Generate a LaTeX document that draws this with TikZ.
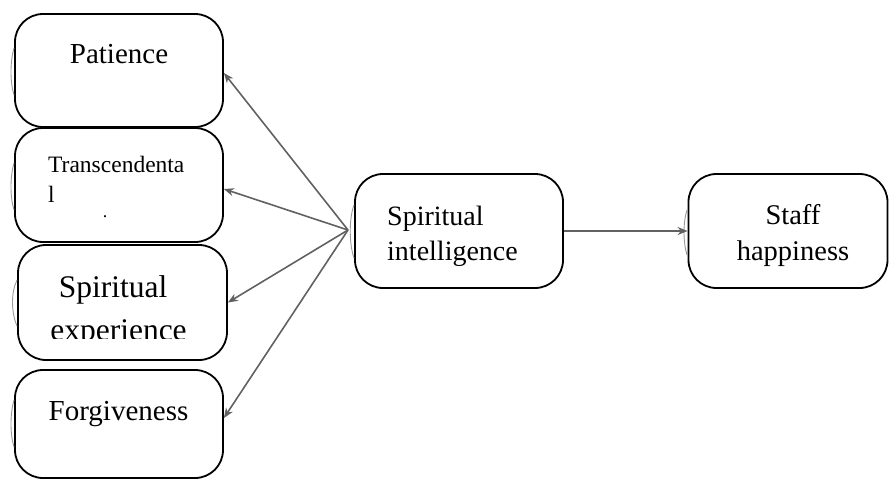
\documentclass[tikz,border=0pt]{standalone}
\usepackage{fontspec}
\setmainfont{Liberation Serif}
\usetikzlibrary{arrows.meta}
\begin{document}
\begin{tikzpicture}[x=1pt,y=-1pt,
  box/.style={draw=black,line width=1.8pt,rounded corners=28pt,rectangle,inner sep=0pt},
  lbl/.style={inner sep=0pt,text=black},
  arr/.style={draw=black!62,line width=1.6pt,-{Stealth[length=10pt,width=8pt]}},
  ghost/.style={draw=black!40,line width=0.9pt}]
\useasboundingbox (0,0) rectangle (889,480);
% boxes
\node[box,minimum width=208pt,minimum height=113pt] (pat) at (119,70.5) {};
\node[box,minimum width=208pt,minimum height=114pt] (tra) at (119,185) {};
\node[box,minimum width=209pt,minimum height=115pt] (spe) at (122.5,302.5) {};
\node[box,minimum width=208pt,minimum height=108pt] (forg) at (119,424) {};
\node[box,minimum width=208pt,minimum height=114pt] (si) at (459,231) {};
\node[box,minimum width=199pt,minimum height=114pt] (sh) at (788,231) {};
% ghost arcs
\draw[ghost] (14,48) .. controls (10,62) and (10,82) .. (14,95);
\draw[ghost] (14,163) .. controls (10,177) and (10,197) .. (14,210);
\draw[ghost] (17,280) .. controls (11,292) and (11,312) .. (17,326);
\draw[ghost] (14,400) .. controls (10,414) and (10,434) .. (14,447);
\draw[ghost] (354,205) .. controls (349,218) and (349,244) .. (354,258);
\draw[ghost] (687,210) .. controls (683,222) and (683,242) .. (687,255);
% texts
\node[lbl,anchor=base,font=\fontsize{29}{35}\selectfont] (tpat) at (119,63) {Patience};
\node[lbl,anchor=base west,font=\fontsize{23.5}{28}\selectfont] (ttra1) at (48,172) {Transcendenta};
\node[lbl,anchor=base west,font=\fontsize{23.5}{28}\selectfont] (ttra2) at (48,202) {l};
\node[lbl,anchor=base,font=\fontsize{18}{20}\selectfont] (ttra3) at (105,217) {.};
\node[lbl,anchor=base,font=\fontsize{31.5}{38}\selectfont] (tspe1) at (113,297) {Spiritual};
\begin{scope}
\clip (0,240) rectangle (240,338);
\node[lbl,anchor=base,font=\fontsize{31.5}{38}\selectfont] (tspe2) at (118.5,340) {experience};
\end{scope}
\node[lbl,anchor=base,font=\fontsize{29}{35}\selectfont] (tforg) at (118.5,420) {Forgiveness};
\node[lbl,anchor=base west,font=\fontsize{28}{34}\selectfont] (tsi1) at (387,225) {Spiritual};
\node[lbl,anchor=base west,font=\fontsize{28}{34}\selectfont] (tsi2) at (387,260) {intelligence};
\node[lbl,anchor=base,font=\fontsize{28.5}{34}\selectfont] (tsh1) at (793,224) {Staff};
\node[lbl,anchor=base,font=\fontsize{28.5}{34}\selectfont] (tsh2) at (793,260) {happiness};
% connectors
\coordinate (hub) at (348,230);
\draw[arr] (hub) -- (pat.east |- 0,73);
\draw[arr] (hub) -- (tra.east |- 0,189);
\draw[arr] (hub) -- (spe.east);
\draw[arr] (hub) -- (forg.east |- 0,418);
\draw[arr] (si.east) -- (sh.west);
\end{tikzpicture}
\end{document}
